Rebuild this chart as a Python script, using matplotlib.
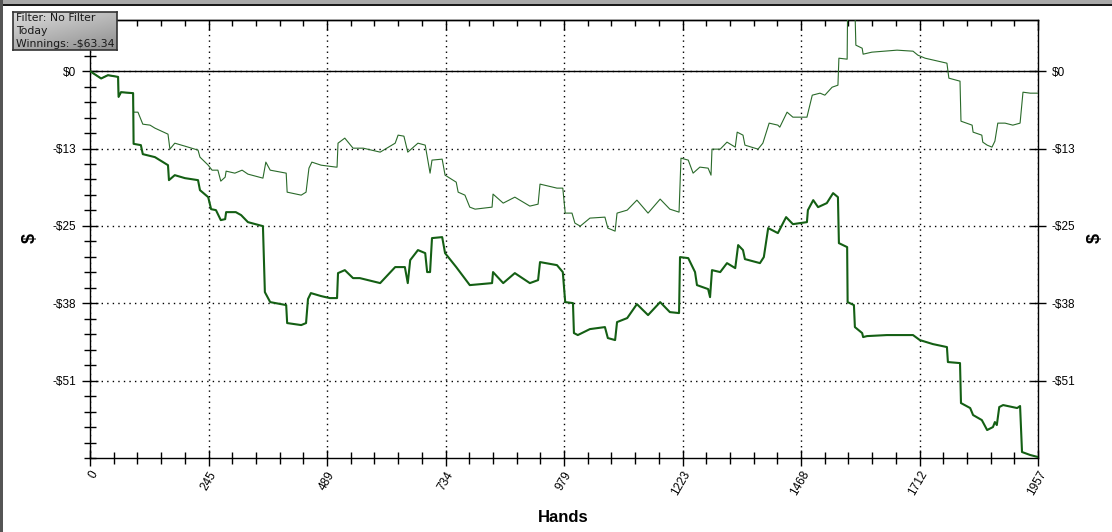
import matplotlib
matplotlib.use("Agg")
import matplotlib.pyplot as plt
import numpy as np
from matplotlib.ticker import FixedLocator, MultipleLocator
from matplotlib.patches import Rectangle

# ---- data (hands, $) ----
thick_hands = [0, 23, 37, 58, 59, 64, 89, 90, 105, 109, 134, 161, 163, 175, 196, 223, 227, 244, 250, 260,
               270, 279, 281, 301, 312, 326, 357, 361, 372, 405, 407, 436, 446, 450, 456, 477, 495, 510,
               512, 526, 543, 557, 599, 630, 650, 656, 661, 677, 692, 696, 702, 706, 727, 733, 756, 784,
               830, 832, 853, 877, 908, 925, 929, 964, 976, 981, 997, 999, 1007, 1032, 1063, 1069, 1084,
               1088, 1109, 1129, 1152, 1177, 1197, 1216, 1218, 1235, 1249, 1253, 1276, 1280, 1284, 1301,
               1315, 1332, 1338, 1348, 1352, 1383, 1391, 1400, 1420, 1437, 1451, 1480, 1482, 1493, 1503,
               1521, 1534, 1544, 1546, 1563, 1564, 1577, 1579, 1594, 1596, 1604, 1645, 1699, 1713, 1740,
               1769, 1771, 1796, 1798, 1817, 1823, 1841, 1852, 1864, 1868, 1872, 1877, 1885, 1914, 1920,
               1924, 1941, 1957]
thick_vals = [0, -1.20, -0.66, -0.94, -4.22, -3.45, -3.61, -11.93, -12.14, -13.62, -14.11, -15.43, -17.89,
              -17.07, -17.56, -17.89, -19.53, -20.68, -22.65, -22.81, -24.45, -24.29, -23.14, -23.14,
              -23.63, -24.78, -25.44, -36.27, -37.91, -38.40, -41.35, -41.68, -41.35, -37.41, -36.43,
              -36.92, -37.25, -37.25, -33.15, -32.66, -33.97, -33.97, -34.79, -32.16, -32.16, -34.79,
              -31.02, -29.37, -29.87, -32.98, -32.98, -27.40, -27.24, -29.87, -32.16, -35.12, -34.79,
              -32.98, -34.79, -33.15, -34.79, -34.30, -31.34, -31.84, -32.98, -37.91, -38.07, -42.99,
              -43.32, -42.34, -42.01, -43.81, -44.14, -41.19, -40.53, -38.24, -40.04, -37.91, -39.55,
              -39.71, -30.52, -30.69, -32.98, -35.12, -35.77, -37.09, -32.66, -32.98, -31.51, -32.33,
              -28.55, -29.37, -30.85, -31.51, -30.52, -25.76, -26.58, -23.96, -25.11, -24.78, -22.81,
              -21.17, -22.32, -21.66, -20.02, -20.68, -28.23, -28.88, -37.91, -38.40, -42.01, -42.99,
              -43.65, -43.49, -43.32, -43.32, -44.14, -44.80, -45.29, -47.75, -47.92, -54.48, -55.30,
              -56.45, -57.27, -58.91, -58.42, -57.60, -58.09, -55.14, -54.81, -55.30, -54.97, -62.52,
              -63.01, -63.34]

thin_hands = [0, 23, 37, 58, 59, 64, 89, 90, 99, 109, 124, 134, 161, 165, 175, 196, 223, 227, 244, 252,
              264, 270, 279, 281, 299, 314, 326, 357, 363, 372, 405, 407, 436, 446, 452, 458, 477, 508,
              510, 512, 526, 543, 564, 599, 630, 636, 648, 656, 677, 692, 702, 706, 727, 733, 756, 760,
              774, 784, 795, 830, 832, 853, 877, 908, 925, 929, 964, 976, 981, 995, 1001, 1012, 1032,
              1063, 1069, 1084, 1088, 1109, 1129, 1152, 1177, 1197, 1216, 1220, 1235, 1245, 1259, 1276,
              1282, 1284, 1301, 1315, 1332, 1336, 1348, 1352, 1379, 1389, 1402, 1420, 1424, 1439, 1451,
              1480, 1491, 1507, 1517, 1532, 1544, 1546, 1563, 1564, 1579, 1581, 1594, 1596, 1614, 1666,
              1699, 1709, 1724, 1769, 1773, 1796, 1798, 1821, 1823, 1841, 1843, 1852, 1862, 1868, 1874,
              1889, 1905, 1920, 1926, 1941, 1957]
thin_vals = [0, -1.20, -0.66, -0.94, -4.22, -3.45, -3.61, -6.73, -6.73, -8.70, -8.86, -9.35, -10.34,
             -12.80, -11.82, -12.31, -12.96, -14.11, -15.43, -16.25, -16.25, -18.05, -17.40, -16.41,
             -16.74, -16.25, -16.90, -17.56, -14.93, -16.25, -16.74, -19.86, -20.35, -19.86, -15.92,
             -14.93, -15.43, -15.75, -15.75, -11.82, -10.99, -12.64, -12.64, -13.29, -11.82, -10.50,
             -10.67, -13.29, -11.82, -12.14, -16.74, -14.60, -14.44, -17.07, -18.22, -19.86, -20.35,
             -22.32, -22.65, -22.32, -20.18, -21.66, -20.68, -22.15, -21.83, -18.54, -19.20, -19.20,
             -23.30, -23.30, -24.94, -25.44, -24.12, -23.96, -25.76, -26.26, -23.30, -22.81, -21.17,
             -23.30, -21.00, -22.65, -23.14, -14.28, -14.60, -16.74, -15.75, -15.92, -17.07, -12.80,
             -12.80, -11.65, -12.47, -10.01, -10.50, -12.14, -12.80, -11.82, -8.53, -8.86, -9.19,
             -6.73, -7.55, -7.55, -3.94, -3.61, -3.94, -2.63, -2.30, 2.13, 1.97, 10.5, 10.5, 4.27,
             3.77, 2.79, 3.12, 3.45, 3.28, 2.63, 2.13, 1.31, -1.15, -1.64, -8.21, -8.86, -10.01,
             -10.50, -11.65, -12.14, -12.47, -11.49, -8.53, -8.53, -8.86, -8.53, -3.45, -3.61, -3.61]

x_max = 1957
y_min, y_max = -63.5, 8.4
y_step = 12.7
legend_lines = ["Filter: No Filter", "Today", "Winnings: -$63.34"]

# ---- figure ----
W, H = 1112, 532
fig = plt.figure(figsize=(W / 100, H / 100), dpi=100)
fig.patch.set_facecolor("white")
plt.rcParams['font.family'] = ['Liberation Sans', 'DejaVu Sans']

ax = fig.add_axes([90 / W, (H - 458) / H, (1038 - 90) / W, (458 - 20) / H])
ax.set_xlim(0, x_max)
ax.set_ylim(y_min, y_max)

ax.plot(thin_hands, thin_vals, color="#2a6a2a", lw=0.8, zorder=3)
ax.plot(thick_hands, thick_vals, color="#145f14", lw=1.5, zorder=4)
ax.axhline(0, color="black", lw=1.0, zorder=2)

xmaj = [x_max * i / 8 for i in range(9)]
ymaj = [-y_step * i for i in range(5)]
ax.xaxis.set_major_locator(FixedLocator(xmaj))
ax.xaxis.set_minor_locator(MultipleLocator(x_max / 40))
ax.yaxis.set_major_locator(FixedLocator(ymaj))
ax.yaxis.set_minor_locator(MultipleLocator(y_step / 5))
ax.set_xticklabels([f"{int(v + 0.5)}" for v in xmaj])
ax.set_yticklabels(["$0" if v == 0 else f"-${int(-v + 0.5)}" for v in ymaj])

ax.grid(True, which="major", color="black", lw=1.0, linestyle=(0, (1, 3)))
for s in ax.spines.values():
    s.set_color("black")
    s.set_linewidth(1.0)

ax.tick_params(axis="both", which="major", direction="inout", length=12, width=1.0,
               labelsize=8.5, colors="black")
ax.tick_params(axis="both", which="minor", direction="inout", length=8, width=1.0)
ax.tick_params(axis="y", right=True, labelright=True, pad=4)
ax.tick_params(axis="x", pad=2)
for lab in ax.get_xticklabels():
    lab.set_rotation(60)
    lab.set_ha("right")
    lab.set_va("top")
    lab.set_rotation_mode("anchor")

top = ax.secondary_xaxis("top")
top.xaxis.set_major_locator(FixedLocator(xmaj))
top.xaxis.set_minor_locator(MultipleLocator(x_max / 40))
top.tick_params(which="major", direction="in", length=7, width=1.0, labeltop=False)
top.tick_params(which="minor", direction="in", length=4, width=1.0)
top.spines["top"].set_linewidth(1.0)

fig.text(563 / W, 1 - 518 / H, "Hands", ha="center", va="center", fontsize=12, fontweight="bold")
fig.text(30 / W, 1 - 238 / H, "$", ha="center", va="center", fontsize=13, fontweight="bold", rotation=90)
fig.text(1095 / W, 1 - 238 / H, "$", ha="center", va="center", fontsize=13, fontweight="bold", rotation=90)

# window frame bits
fig.patches.append(Rectangle((0, 1 - 4 / H), 1, 4 / H, transform=fig.transFigure,
                             facecolor="#a9a9a9", edgecolor="none", zorder=10))
fig.patches.append(Rectangle((0, 1 - 6 / H), 1, 2 / H, transform=fig.transFigure,
                             facecolor="#1a1a1a", edgecolor="none", zorder=10))
fig.patches.append(Rectangle((0, 0), 3 / W, 1, transform=fig.transFigure,
                             facecolor="#555555", edgecolor="none", zorder=10))

# info box
bax = fig.add_axes([13 / W, 1 - 50 / H, 104 / W, 38 / H])
grad = np.linspace(0, 1, 64)[:, None] * 0.6 + np.linspace(0, 1, 64)[None, :] * 0.4
bax.imshow(grad, cmap=matplotlib.colors.LinearSegmentedColormap.from_list("g", ["#dcdcdc", "#8e8e8e"]),
           aspect="auto", extent=(0, 1, 0, 1), origin="upper")
bax.set_xlim(0, 1)
bax.set_ylim(0, 1)
bax.set_xticks([])
bax.set_yticks([])
for s in bax.spines.values():
    s.set_color("#333333")
    s.set_linewidth(1.2)
for i, t in enumerate(legend_lines):
    bax.text(0.025, 0.83 - i * 0.33, t, ha="left", va="center", fontsize=7.8,
             family=["DejaVu Sans"], color="#1a1a1a")

fig.savefig("out.png", dpi=100)
